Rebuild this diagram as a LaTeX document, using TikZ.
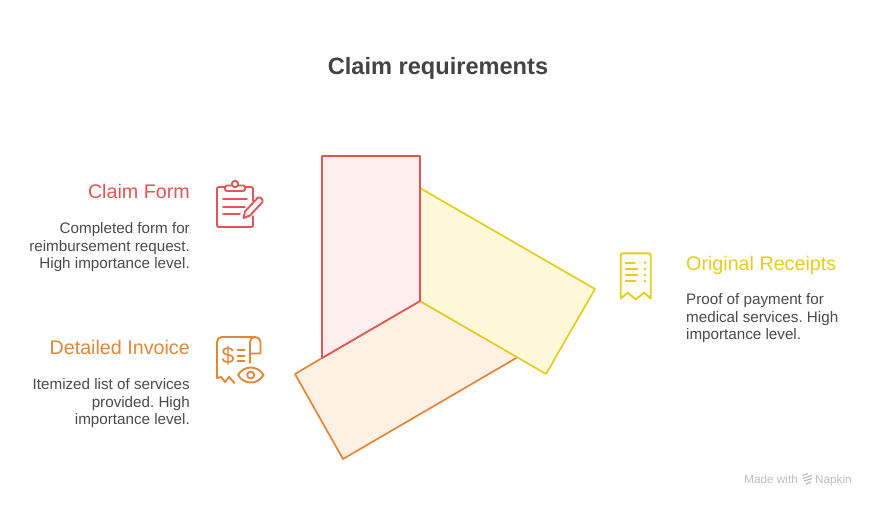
\documentclass[tikz,border=0pt]{standalone}
\usepackage{fontspec}
\setmainfont{Liberation Sans}
\usetikzlibrary{positioning}
\definecolor{redline}{HTML}{E55454}
\definecolor{redfill}{HTML}{FFEEEE}
\definecolor{yellowline}{HTML}{E3CE1C}
\definecolor{yellowfill}{HTML}{FFF9DA}
\definecolor{orangeline}{HTML}{E2863A}
\definecolor{orangefill}{HTML}{FFF0E4}
\definecolor{bodygrey}{HTML}{4A4A4A}
\definecolor{markgrey}{HTML}{BDBDBD}
\frenchspacing
\tikzset{
x=1pt, y=-1pt, % one unit is one pixel of the picture
panel/.style={line width=1.7pt, line join=round},
icon/.style={line width=1.9pt, line cap=round, line join=round},
head/.style={font=\fontsize{19.7}{23}\selectfont, inner sep=0pt},
body/.style={font=\fontsize{15.2}{17.6}\selectfont, text=bodygrey, inner sep=0pt},
foot/.style={font=\fontsize{11.7}{14}\selectfont, text=markgrey, inner sep=0pt},
}
\begin{document}
\begin{tikzpicture}
  \useasboundingbox (0,0) rectangle (876,507);
  \node[font=\fontsize{23.6}{28}\selectfont\bfseries, text=bodygrey!90!black, inner sep=0pt, anchor=base] (title) at (438,74.5) {Claim requirements};

  % panels
  \draw[panel, orangeline, fill=orangefill] (322,358) -- (295,374) -- (343,459) -- (518,357) -- (420,301) -- cycle;
  \draw[panel, yellowline, fill=yellowfill] (420,188) -- (595,289) -- (546,374) -- (420,301);
  \draw[panel, redline, fill=redfill] (322,156) -- (420,156) -- (420,301) -- (322,358) -- cycle;

  % labels
  \node[head, anchor=base east, text=redline] (claimhead) at (190,198.5) {Claim Form};
  \node[body, align=right, below=24pt of claimhead.base east, anchor=north east] (claimbody) {Completed form for\\reimbursement request.\\High importance level.};
  \node[head, anchor=base east, text=orangeline] (invoicehead) at (190,354.5) {Detailed Invoice};
  \node[body, align=right, below=24pt of invoicehead.base east, anchor=north east] (invoicebody) {Itemized list of services\\provided. High\\importance level.};
  \node[head, anchor=base west, text=yellowline] (receipthead) at (686,270.5) {Original Receipts};
  \node[body, align=left, below=23pt of receipthead.base west, anchor=north west] (receiptbody) {Proof of payment for\\medical services. High\\importance level.};

  % clipboard icon
  \begin{scope}[icon, redline]
    \draw (225,187) -- (219,187) .. controls (217.5,187) and (217,188) .. (217,189) -- (217,225) .. controls (217,226.5) and (217.5,227) .. (219,227) -- (251,227) .. controls (252.5,227) and (253,226.5) .. (253,225) -- (253,216);
    \draw (245,187) -- (251,187) .. controls (252.5,187) and (253,188) .. (253,189) -- (253,201);
    \draw[rounded corners=2pt] (225,185.5) rectangle (245,191);
    \draw[fill=white] (235,184) circle (3.2);
    \draw (223,199) -- (247,199) (223,206.7) -- (245,206.7) (223,214.3) -- (240,214.3);
    \draw (243.5,218) -- (245,211.5) -- (257.5,198) .. controls (259.5,196) and (263.5,199) .. (262.5,202) -- (250,215.5) -- cycle;
  \end{scope}

  % invoice icon
  \begin{scope}[icon, orangeline]
    \draw (217,378) -- (217,342) .. controls (217,339) and (219,337) .. (222,337) -- (255,337) .. controls (258,337) and (260.5,339) .. (260.5,342) -- (260.5,353.5) -- (250,353.5);
    \draw (255,337) .. controls (252,337) and (250,339) .. (250,342) -- (250,363);
    \draw (217,378) -- (221,377) -- (225,382) -- (229,377) -- (234.5,383);
    \node[inner sep=0pt, font=\fontsize{23}{23}\selectfont, text=orangeline] (dollar) at (228,355.5) {\$};
    \draw (237.5,350) -- (244.5,350) (237.5,355.7) -- (244.5,355.7) (237.5,361) -- (244.5,361);
    \draw (238,375) .. controls (244,365) and (257.5,365) .. (263.5,375) .. controls (257.5,385) and (244,385) .. (238,375) -- cycle;
    \draw (250.7,375) circle (3.5);
  \end{scope}

  % receipt icon
  \begin{scope}[icon, yellowline]
    \draw (620.7,298.5) -- (620.7,255) .. controls (620.7,254) and (621.5,253.3) .. (622.5,253.3) -- (649,253.3) .. controls (650,253.3) and (650.7,254) .. (650.7,255) -- (650.7,298.5) -- (644.3,292.7) -- (635.7,299.3) -- (627.7,292.7) -- cycle;
    \draw (625.5,262.7) -- (635,262.7) (625.5,269) -- (637.5,269) (625.5,275) -- (637.5,275) (625.5,281) -- (635.5,281);
    \foreach \ypos in {262.7,269,275,281}
      \fill (645,\ypos) circle (1.5);
  \end{scope}

  % footer
  \node[foot, anchor=base east] (madewith) at (798,483) {Made with};
  \node[foot, anchor=base west] (napkin) at (815,483) {Napkin};
  \draw[markgrey, line width=1.3pt] (802.5,475.5) -- (808,473.5) (802.5,478.5) -- (812,475.5) (804,481) -- (812,478.5) (806,484) -- (811,482);
\end{tikzpicture}
\end{document}
